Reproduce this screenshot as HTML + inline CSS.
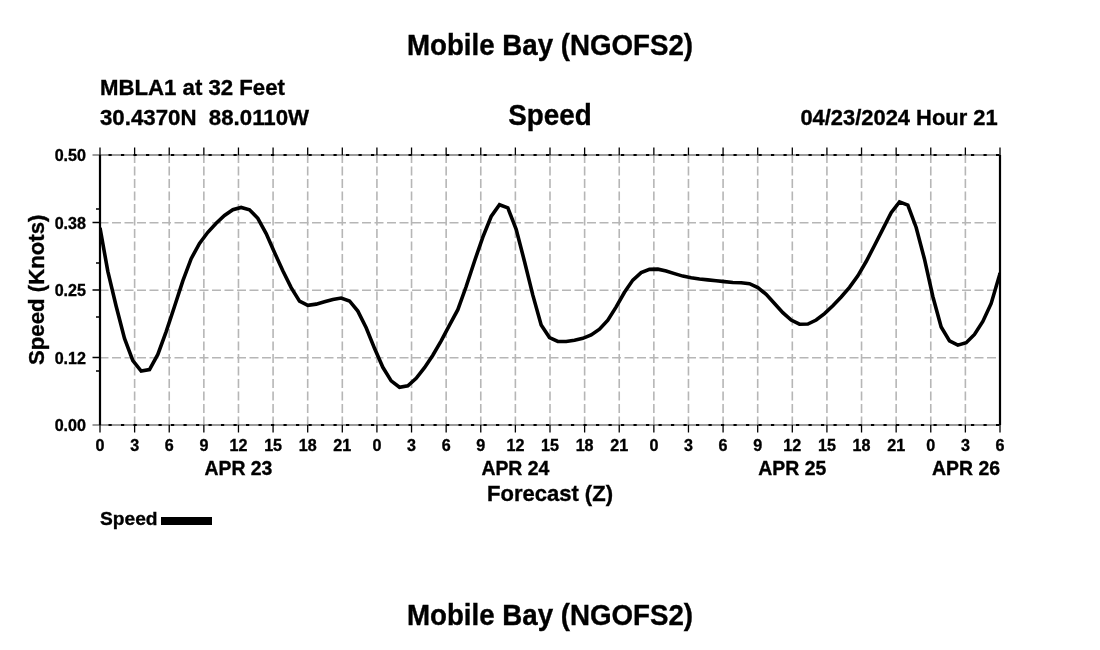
<!DOCTYPE html><html><head><meta charset="utf-8"><style>html,body{margin:0;padding:0;background:#fff;width:1100px;height:650px;overflow:hidden}svg{display:block;filter:grayscale(1)}text{font-family:"Liberation Sans",sans-serif;font-weight:bold;fill:#000;stroke:#000;stroke-width:0.35px}</style></head><body>
<svg width="1100" height="650" viewBox="0 0 1100 650">
<rect width="1100" height="650" fill="#fff"/>
<text transform="translate(550 54.8) scale(1 1.05)" font-size="27.7" text-anchor="middle">Mobile Bay (NGOFS2)</text>
<text transform="translate(100 94.7) scale(1 1.0)" font-size="22.2">MBLA1 at 32 Feet</text>
<text transform="translate(100 124.9) scale(1 1.0)" font-size="22.25" xml:space="preserve">30.4370N  88.0110W</text>
<text transform="translate(550 125.2) scale(1 1.03)" font-size="27.8" text-anchor="middle">Speed</text>
<text transform="translate(997.6 125) scale(1 1.0)" font-size="21.9" text-anchor="end">04/23/2024 Hour 21</text>
<path d="M134.62 155V425M169.23 155V425M203.85 155V425M238.46 155V425M273.08 155V425M307.69 155V425M342.31 155V425M376.92 155V425M411.54 155V425M446.15 155V425M480.77 155V425M515.38 155V425M550.00 155V425M584.62 155V425M619.23 155V425M653.85 155V425M688.46 155V425M723.08 155V425M757.69 155V425M792.31 155V425M826.92 155V425M861.54 155V425M896.15 155V425M930.77 155V425M965.38 155V425" stroke="#b6b6b6" stroke-width="1.6" stroke-dasharray="9 3.5" stroke-dashoffset="0.9" fill="none"/>
<path d="M100 357.80H1000M100 290.30H1000M100 222.80H1000" stroke="#b6b6b6" stroke-width="1.6" stroke-dasharray="9 3.5" stroke-dashoffset="0.5" fill="none"/>
<path d="M92.5 155H1000" stroke="#3a3a3a" stroke-width="1.2" fill="none"/>
<path d="M100 155H1000" stroke="#000" stroke-width="2" stroke-dasharray="3.2 9.3" stroke-dashoffset="-8.5" fill="none"/>
<path d="M92.5 425H1000" stroke="#3a3a3a" stroke-width="1.2" fill="none"/>
<path d="M100 425H1000" stroke="#000" stroke-width="2" stroke-dasharray="3.2 9.3" stroke-dashoffset="-8.5" fill="none"/>
<path d="M100.00 147.5V155M100.00 425V432.5M134.62 147.5V155M134.62 425V432.5M169.23 147.5V155M169.23 425V432.5M203.85 147.5V155M203.85 425V432.5M238.46 147.5V155M238.46 425V432.5M273.08 147.5V155M273.08 425V432.5M307.69 147.5V155M307.69 425V432.5M342.31 147.5V155M342.31 425V432.5M376.92 147.5V155M376.92 425V432.5M411.54 147.5V155M411.54 425V432.5M446.15 147.5V155M446.15 425V432.5M480.77 147.5V155M480.77 425V432.5M515.38 147.5V155M515.38 425V432.5M550.00 147.5V155M550.00 425V432.5M584.62 147.5V155M584.62 425V432.5M619.23 147.5V155M619.23 425V432.5M653.85 147.5V155M653.85 425V432.5M688.46 147.5V155M688.46 425V432.5M723.08 147.5V155M723.08 425V432.5M757.69 147.5V155M757.69 425V432.5M792.31 147.5V155M792.31 425V432.5M826.92 147.5V155M826.92 425V432.5M861.54 147.5V155M861.54 425V432.5M896.15 147.5V155M896.15 425V432.5M930.77 147.5V155M930.77 425V432.5M965.38 147.5V155M965.38 425V432.5M1000.00 147.5V155M1000.00 425V432.5M92.5 357.50H100M92.5 290.00H100M92.5 222.50H100M96 371.00H100M96 317.00H100M96 263.00H100M96 209.00H100" stroke="#000" stroke-width="1.3" fill="none"/>
<path d="M100 155V425M1000 155V425" stroke="#000" stroke-width="2.2" fill="none"/>
<clipPath id="c"><rect x="100" y="155" width="900" height="270"/></clipPath>
<path d="M100.00 227.87 L107.83 271.42 L116.17 306.27 L124.50 338.36 L132.83 360.59 L141.17 371.12 L149.50 369.55 L157.83 354.42 L166.17 331.57 L174.50 306.52 L182.83 280.96 L191.17 258.63 L199.50 243.47 L207.83 232.28 L216.17 223.21 L224.50 215.41 L232.83 209.74 L241.17 207.43 L249.50 209.82 L257.83 218.28 L266.17 233.63 L274.50 252.51 L282.83 270.74 L291.17 287.61 L299.50 301.22 L307.83 305.27 L316.17 304.12 L324.50 301.78 L332.83 299.40 L341.17 298.05 L349.50 300.93 L357.83 311.07 L366.17 327.71 L374.50 348.31 L382.83 367.30 L391.17 380.83 L399.50 387.29 L407.83 385.77 L416.17 378.31 L424.50 367.73 L432.83 355.21 L441.17 340.82 L449.50 325.15 L457.83 309.65 L466.17 286.50 L474.50 261.19 L482.83 237.05 L491.17 216.49 L499.50 204.76 L507.83 207.87 L516.17 229.34 L524.50 261.43 L532.83 295.16 L541.17 324.90 L549.50 337.58 L557.83 341.50 L566.17 341.54 L574.50 340.29 L582.83 338.36 L591.17 334.96 L599.50 329.23 L607.83 320.18 L616.17 306.91 L624.50 292.27 L632.83 280.10 L641.17 272.62 L649.50 269.33 L657.83 269.13 L666.17 270.93 L674.50 273.62 L682.83 276.11 L691.17 277.84 L699.50 279.01 L707.83 279.87 L716.17 280.68 L724.50 281.62 L732.83 282.45 L741.17 282.74 L749.50 283.66 L757.83 287.50 L766.17 294.36 L774.50 303.43 L782.83 312.70 L791.17 320.10 L799.50 324.23 L807.83 324.01 L816.17 320.01 L824.50 313.60 L832.83 305.72 L841.17 297.02 L849.50 287.35 L857.83 275.79 L866.17 261.52 L874.50 245.50 L882.83 229.07 L891.17 212.73 L899.50 201.84 L907.83 205.13 L916.17 227.43 L924.50 259.21 L932.83 296.47 L941.17 327.04 L949.50 340.97 L957.83 345.12 L966.17 342.66 L974.50 334.47 L982.83 321.43 L991.17 303.46 L999.50 275.14 L1000.00 272.96" stroke="#000" stroke-width="3.6" fill="none" stroke-linejoin="miter" clip-path="url(#c)"/>
<text transform="translate(86 161.0) scale(1 1.0)" font-size="16.1" text-anchor="end">0.50</text>
<text transform="translate(86 228.5) scale(1 1.0)" font-size="16.1" text-anchor="end">0.38</text>
<text transform="translate(86 296.0) scale(1 1.0)" font-size="16.1" text-anchor="end">0.25</text>
<text transform="translate(86 363.5) scale(1 1.0)" font-size="16.1" text-anchor="end">0.12</text>
<text transform="translate(86 431.0) scale(1 1.0)" font-size="16.1" text-anchor="end">0.00</text>
<text transform="translate(100.0 451) scale(1 1.0)" font-size="16.1" text-anchor="middle">0</text>
<text transform="translate(134.62 451) scale(1 1.0)" font-size="16.1" text-anchor="middle">3</text>
<text transform="translate(169.23 451) scale(1 1.0)" font-size="16.1" text-anchor="middle">6</text>
<text transform="translate(203.85 451) scale(1 1.0)" font-size="16.1" text-anchor="middle">9</text>
<text transform="translate(238.46 451) scale(1 1.0)" font-size="16.1" text-anchor="middle">12</text>
<text transform="translate(273.08 451) scale(1 1.0)" font-size="16.1" text-anchor="middle">15</text>
<text transform="translate(307.69 451) scale(1 1.0)" font-size="16.1" text-anchor="middle">18</text>
<text transform="translate(342.31 451) scale(1 1.0)" font-size="16.1" text-anchor="middle">21</text>
<text transform="translate(376.92 451) scale(1 1.0)" font-size="16.1" text-anchor="middle">0</text>
<text transform="translate(411.54 451) scale(1 1.0)" font-size="16.1" text-anchor="middle">3</text>
<text transform="translate(446.15 451) scale(1 1.0)" font-size="16.1" text-anchor="middle">6</text>
<text transform="translate(480.77 451) scale(1 1.0)" font-size="16.1" text-anchor="middle">9</text>
<text transform="translate(515.38 451) scale(1 1.0)" font-size="16.1" text-anchor="middle">12</text>
<text transform="translate(550.0 451) scale(1 1.0)" font-size="16.1" text-anchor="middle">15</text>
<text transform="translate(584.62 451) scale(1 1.0)" font-size="16.1" text-anchor="middle">18</text>
<text transform="translate(619.23 451) scale(1 1.0)" font-size="16.1" text-anchor="middle">21</text>
<text transform="translate(653.85 451) scale(1 1.0)" font-size="16.1" text-anchor="middle">0</text>
<text transform="translate(688.46 451) scale(1 1.0)" font-size="16.1" text-anchor="middle">3</text>
<text transform="translate(723.08 451) scale(1 1.0)" font-size="16.1" text-anchor="middle">6</text>
<text transform="translate(757.69 451) scale(1 1.0)" font-size="16.1" text-anchor="middle">9</text>
<text transform="translate(792.31 451) scale(1 1.0)" font-size="16.1" text-anchor="middle">12</text>
<text transform="translate(826.92 451) scale(1 1.0)" font-size="16.1" text-anchor="middle">15</text>
<text transform="translate(861.54 451) scale(1 1.0)" font-size="16.1" text-anchor="middle">18</text>
<text transform="translate(896.15 451) scale(1 1.0)" font-size="16.1" text-anchor="middle">21</text>
<text transform="translate(930.77 451) scale(1 1.0)" font-size="16.1" text-anchor="middle">0</text>
<text transform="translate(965.38 451) scale(1 1.0)" font-size="16.1" text-anchor="middle">3</text>
<text transform="translate(1000.0 451) scale(1 1.0)" font-size="16.1" text-anchor="middle">6</text>
<text transform="translate(238.46 475) scale(1 1.0)" font-size="19.4" text-anchor="middle">APR 23</text>
<text transform="translate(515.38 475) scale(1 1.0)" font-size="19.4" text-anchor="middle">APR 24</text>
<text transform="translate(792.31 475) scale(1 1.0)" font-size="19.4" text-anchor="middle">APR 25</text>
<text transform="translate(1000 475) scale(1 1.0)" font-size="19.4" text-anchor="end">APR 26</text>
<text transform="translate(550 500.5) scale(1 1.0)" font-size="22" text-anchor="middle">Forecast (Z)</text>
<text transform="translate(43.8 289.8) rotate(-90)" x="0" y="0" font-size="22.2" text-anchor="middle">Speed (Knots)</text>
<text transform="translate(100 524.8) scale(1 1.0)" font-size="19.2">Speed</text>
<rect x="161" y="517" width="51" height="8" fill="#000"/>
<text transform="translate(550 624.8) scale(1 1.05)" font-size="27.7" text-anchor="middle">Mobile Bay (NGOFS2)</text>
</svg></body></html>
